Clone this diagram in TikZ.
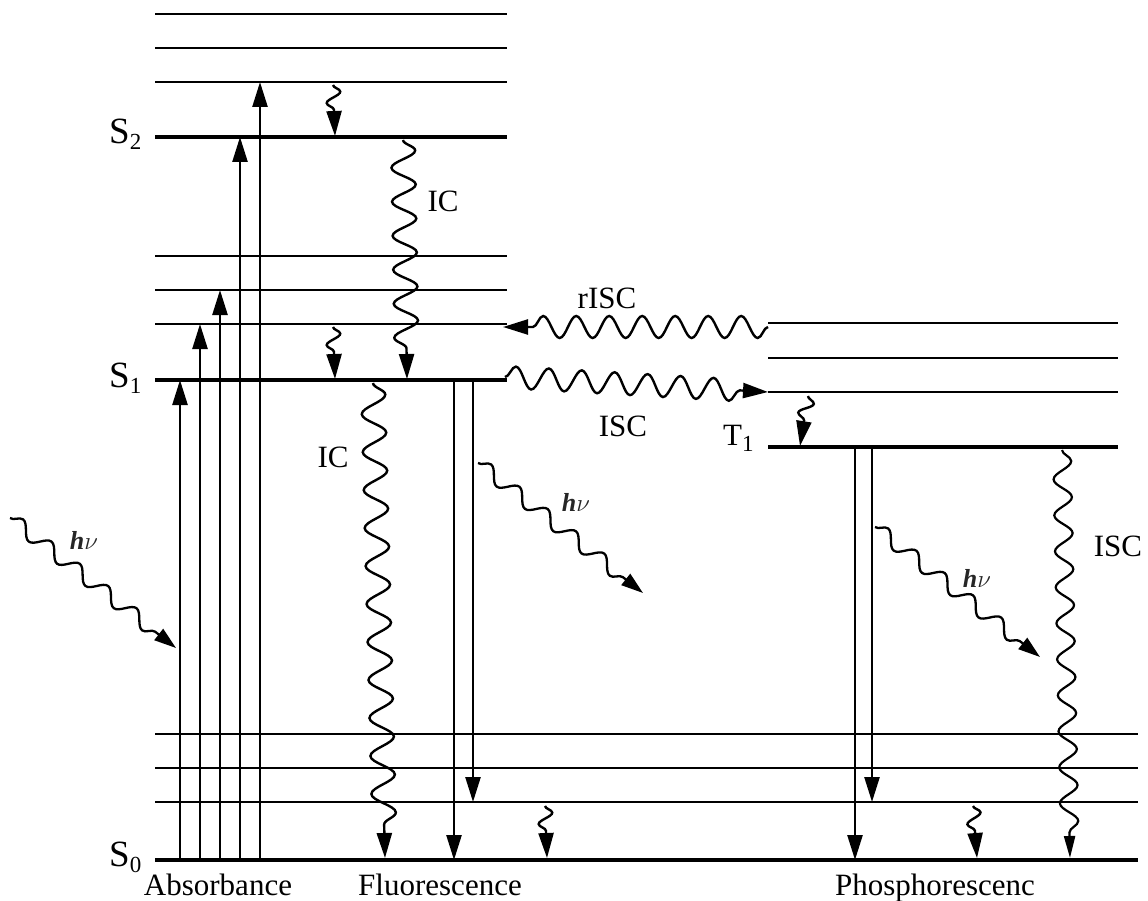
\documentclass[tikz,border=0pt]{standalone}
\usepackage{fontspec}
\setmainfont{Liberation Serif}
\usetikzlibrary{arrows.meta,decorations.pathmorphing}
\newcommand\lvsub[1]{\raisebox{-6pt}{\fontsize{23}{23}\selectfont #1}}
\begin{document}
\begin{tikzpicture}[x=1pt,y=-1pt,
  lvl/.style={line width=3.2pt},
  sub/.style={line width=2pt},
  arr/.style={line width=2.5pt,-{Triangle[length=25pt,width=15pt]}},
  wv/.style={line width=2.4pt,-{Triangle[length=25pt,width=15pt]},decorate},
  longwave/.style={wv,decoration={snake,amplitude=11pt,segment length=33pt,post length=26pt}},
  icwave/.style={wv,decoration={snake,amplitude=12pt,segment length=34pt,post length=26pt}},
  smallwave/.style={wv,decoration={snake,amplitude=7pt,segment length=22pt,post length=24pt}},
  photon/.style={line width=2.3pt,-{Triangle[length=22pt,width=14pt]},decorate,
     decoration={snake,amplitude=7pt,segment length=36pt,post length=22pt}},
  iscwave/.style={line width=2.2pt,-{Triangle[length=22pt,width=11pt]},decorate,
     decoration={snake,amplitude=9pt,segment length=36pt,post length=24pt}},
  lab/.style={inner sep=0pt,font=\fontsize{31}{34}\selectfont},
  st/.style={inner sep=0pt,anchor=base west,font=\fontsize{37}{40}\selectfont},
  hv/.style={inner sep=0pt,font=\fontsize{26}{28}\selectfont\bfseries\itshape,text=black!85}]
\useasboundingbox (0,0) rectangle (1148,901);
% left levels
\draw[sub] (155,14) coordinate (u3) -- (507,14);
\draw[sub] (155,48) coordinate (u2) -- (507,48);
\draw[sub] (155,82) coordinate (u1) -- (507,82);
\draw[lvl] (155,137) coordinate (S2) -- (507,137);
\draw[sub] (155,256) coordinate (v3) -- (507,256);
\draw[sub] (155,290) coordinate (v2) -- (507,290);
\draw[sub] (155,324) coordinate (v1) -- (507,324);
\draw[lvl] (155,380) coordinate (S1) -- (507,380);
% ground levels
\draw[sub] (155,734) coordinate (w3) -- (1138,734);
\draw[sub] (155,768) coordinate (w2) -- (1138,768);
\draw[sub] (155,802) coordinate (w1) -- (1138,802);
\draw[lvl] (155,860) coordinate (S0) -- (1138,860);
% triplet levels
\draw[sub] (768,323) coordinate (t3) -- (1118,323);
\draw[sub] (768,358) coordinate (t2) -- (1118,358);
\draw[sub] (768,392) coordinate (t1) -- (1118,392);
\draw[lvl] (768,447) coordinate (T1) -- (1118,447);
% columns
\coordinate (ca) at (180,0);
\coordinate (cb) at (200,0);
\coordinate (cc) at (220,0);
\coordinate (cd) at (240,0);
\coordinate (ce) at (260,0);
\coordinate (cf) at (454,0);
\coordinate (cg) at (473,0);
\coordinate (ch) at (855,0);
\coordinate (ci) at (872,0);
% absorbance
\draw[arr] (ca|-S0) -- (ca|-S1);
\draw[arr] (cb|-S0) -- (cb|-v1);
\draw[arr] (cc|-S0) -- (cc|-v2);
\draw[arr] (cd|-S0) -- (cd|-S2);
\draw[arr] (ce|-S0) -- (ce|-u1);
% fluorescence
\draw[arr] (cf|-S1) -- (cf|-S0);
\draw[arr] (cg|-S1) -- (cg|-w1);
% phosphorescence
\draw[arr] (ch|-T1) -- (ch|-S0);
\draw[arr] (ci|-T1) -- (ci|-w1);
% wavy end points
\coordinate (r1s) at (333,85);   \coordinate (r1e) at (335,136);
\coordinate (r2s) at (333,327);  \coordinate (r2e) at (335,379);
\coordinate (ics) at (403,140);  \coordinate (ice) at (407,379);
\coordinate (ic2s) at (373,383); \coordinate (ic2e) at (385,858);
\coordinate (r3s) at (545,806);  \coordinate (r3e) at (547,858);
\coordinate (r4s) at (973,806);  \coordinate (r4e) at (977,858);
\coordinate (r5s) at (808,396);  \coordinate (r5e) at (800,446);
\coordinate (pls) at (10,518);   \coordinate (ple) at (176,648);
\coordinate (pms) at (478,463);  \coordinate (pme) at (643,593);
\coordinate (prs) at (875,527);  \coordinate (pre) at (1040,657);
\coordinate (rIs) at (768,327);  \coordinate (rIe) at (503,327);
\coordinate (Is) at (505,377);   \coordinate (Ie) at (768,392);
\coordinate (I2s) at (1062,450); \coordinate (I2e) at (1070,858);
% relaxations
\draw[smallwave] (r1s) -- (r1e);
\draw[smallwave] (r2s) -- (r2e);
\draw[smallwave] (r3s) -- (r3e);
\draw[smallwave] (r4s) -- (r4e);
\draw[smallwave] (r5s) -- (r5e);
% IC
\draw[icwave] (ics) -- (ice);
\draw[icwave,decoration={segment length=38pt}] (ic2s) -- (ic2e);
% ISC / rISC
\draw[longwave] (rIs) -- (rIe);
\draw[longwave] (Is) -- (Ie);
\draw[iscwave] (I2s) -- (I2e);
% photons
\draw[photon] (pls) -- (ple);
\draw[photon] (pms) -- (pme);
\draw[photon] (prs) -- (pre);
% labels
\node[st] (lS2) at (109,144) {S\lvsub{2}};
\node[st] (lS1) at (109,387) {S\lvsub{1}};
\node[st] (lS0) at (109,866) {S\lvsub{0}};
\node[st,font=\fontsize{31}{34}\selectfont] (lT1) at (723,445) {T\lvsub{1}};
\node[lab] (lIC1) at (443,201) {IC};
\node[lab] (lIC2) at (333,457) {IC};
\node[lab] (lrISC) at (607,298) {rISC};
\node[lab] (lISC1) at (623,426) {ISC};
\node[lab] (lISC2) at (1118,546) {ISC};
\node[hv] (hv1) at (84,540) {h$\nu$};
\node[hv] (hv2) at (576,502) {h$\nu$};
\node[hv] (hv3) at (977,578) {h$\nu$};
\node[lab,anchor=base] (abs) at (218,895) {Absorbance};
\node[lab,anchor=base] (flu) at (440,895) {Fluorescence};
\node[lab,anchor=base] (pho) at (935,895) {Phosphorescenc};
\end{tikzpicture}
\end{document}
